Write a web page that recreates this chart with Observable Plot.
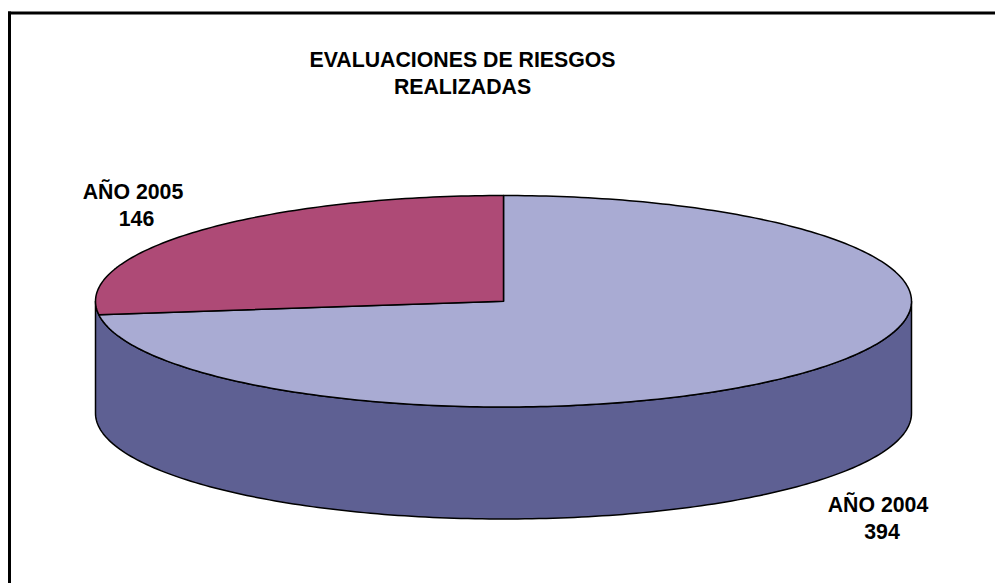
<!DOCTYPE html>
<html>
<head>
<meta charset="utf-8">
<script src="https://cdn.jsdelivr.net/npm/d3@7"></script>
<script src="https://cdn.jsdelivr.net/npm/@observablehq/plot@0.6"></script>
<style>
html,body{margin:0;padding:0;background:#fff}
svg{display:block;background:#fff}
</style>
</head>
<body>
<div id="chart"></div>
<script>
const categories = ["AÑO 2004", "AÑO 2005"];
const values = [394, 146];
const titleLines = ["EVALUACIONES DE RIESGOS", "REALIZADAS"];
const sliceColors = ["#A9ABD3", "#AE4A76"];
const wallColor = "#5E6093";

// Pie seen in perspective: unit circle mapped on an ellipse by the x and y scales.
const pxLeft = 95, pxRight = 911, pxTop = 195, pxBottom = 406.5;
const depth = 112 / ((pxBottom - pxTop) / 2);
const total = d3.sum(values);
const turn = 2 * Math.PI;
const STEPS = 360;

function arc(a0, a1, drop = 0) {
  const n = Math.max(2, Math.ceil(Math.abs(a1 - a0) / turn * STEPS));
  return d3.range(n + 1).map(i => {
    const a = a0 + (a1 - a0) * i / n;
    return {x: Math.sin(a), y: Math.cos(a) - drop};
  });
}

// Slices, clockwise from 12 o'clock
let acc = 0;
const slices = values.map((v, i) => {
  const a0 = acc / total * turn;
  acc += v;
  const a1 = acc / total * turn;
  return {name: categories[i], color: sliceColors[i], points: [{x: 0, y: 0}, ...arc(a0, a1)]};
});

// Visible front wall
const wall = [...arc(turn / 4, 3 * turn / 4), ...arc(3 * turn / 4, turn / 4, depth)];

// Text positions are page pixels converted to the chart's scales
const xScale = {domain: [-1, 1], range: [pxLeft, pxRight]};
const yScale = {domain: [1, -1], range: [pxTop, pxBottom]};
const ux = px => -1 + 2 * (px - pxLeft) / (pxRight - pxLeft);
const uy = py => 1 - 2 * (py - pxTop) / (pxBottom - pxTop);

const nameAt = [[877.5, 503], [132.5, 189.5]];
const valueAt = [[881.5, 530], [136, 216.5]];
const labels = categories.flatMap((c, i) => [
  {text: c, x: ux(nameAt[i][0]), y: uy(nameAt[i][1])},
  {text: String(values[i]), x: ux(valueAt[i][0]), y: uy(valueAt[i][1])}
]);
const title = [{text: titleLines.join("\n"), x: ux(462), y: uy(71.5)}];

const textStyle = {
  x: "x", y: "y", text: "text", fill: "#000", fontSize: 21.3, fontWeight: "bold",
  fontFamily: "'Liberation Sans', Arial, sans-serif", textAnchor: "middle",
  lineAnchor: "middle", lineHeight: 1.27
};
const edge = {x: "x", y: "y", curve: "linear-closed", stroke: "#000", strokeWidth: 1.5, strokeLinejoin: "round"};

const chart = Plot.plot({
  width: 995,
  height: 583,
  marginLeft: 9,
  marginTop: 12.5,
  marginRight: 0,
  marginBottom: 0,
  style: {background: "#fff"},
  x: {...xScale, axis: null},
  y: {...yScale, axis: null},
  marks: [
    Plot.frame({anchor: "left", stroke: "#000", strokeWidth: 3}),
    Plot.frame({anchor: "top", stroke: "#000", strokeWidth: 3}),
    Plot.line(wall, {...edge, fill: wallColor}),
    ...slices.map(s => Plot.line(s.points, {...edge, fill: s.color})),
    Plot.text(title, textStyle),
    Plot.text(labels, textStyle)
  ]
});
document.getElementById("chart").append(chart);
</script>
</body>
</html>
